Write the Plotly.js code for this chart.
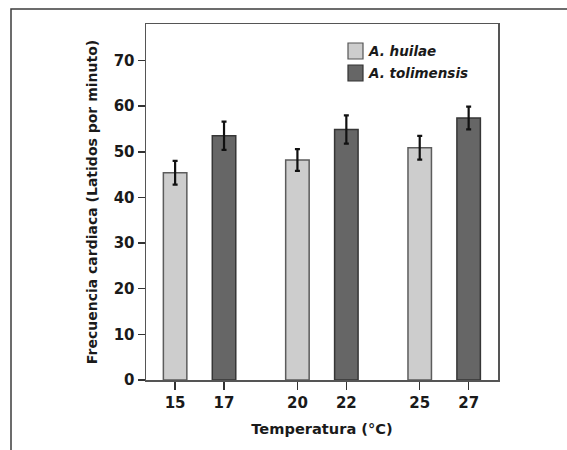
<!DOCTYPE html>
<html>
<head>
<meta charset="utf-8">
<script src="https://cdn.plot.ly/plotly-3.0.1.min.js"></script>
<style>html,body{margin:0;padding:0;background:#fff;}#chart{width:567px;height:450px;}</style>
</head>
<body>
<div id="chart"></div>
<script>
// Data
var tempHuilae = [15, 20, 25];
var valHuilae = [45.4, 48.2, 50.9];
var errHuilae = [2.6, 2.4, 2.6];
var tempTolimensis = [17, 22, 27];
var valTolimensis = [53.5, 54.9, 57.4];
var errTolimensis = [3.1, 3.1, 2.5];
var tickTemps = [15, 17, 20, 22, 25, 27];
var seriesNames = ['A. huilae', 'A. tolimensis'];
var yTicks = [0, 10, 20, 30, 40, 50, 60, 70];

var W = 567, H = 450;
var M = {l: 146, r: 69, t: 24, b: 70};
function px(x) { return (x - M.l) / (W - M.l - M.r); }
function py(y) { return (H - M.b - y) / (H - M.t - M.b); }

var fontFam = 'DejaVu Sans, Liberation Sans, Arial, sans-serif';
var colLight = '#cdcdcd', colDark = '#666666';
function b(s) { return '<b>' + s + '</b>'; }

var traces = [
  {
    type: 'bar', name: seriesNames[0], x: tempHuilae, y: valHuilae, width: 0.96,
    marker: {color: colLight, line: {color: '#5c5c5c', width: 1.5}},
    error_y: {type: 'data', array: errHuilae, visible: true, color: '#111', thickness: 2.2, width: 2.5},
    showlegend: false
  },
  {
    type: 'bar', name: seriesNames[1], x: tempTolimensis, y: valTolimensis, width: 0.96,
    marker: {color: colDark, line: {color: '#363636', width: 1.5}},
    error_y: {type: 'data', array: errTolimensis, visible: true, color: '#111', thickness: 2.2, width: 2.5},
    showlegend: false
  }
];

var axisFont = {family: fontFam, size: 15, color: '#1a1a1a'};

var layout = {
  width: W, height: H,
  margin: M,
  paper_bgcolor: '#fff', plot_bgcolor: '#fff',
  barmode: 'overlay',
  showlegend: false,
  xaxis: {
    range: [13.81, 28.2],
    tickmode: 'array', tickvals: tickTemps, ticktext: tickTemps.map(function (t) { return b(String(t)); }),
    ticks: 'outside', ticklen: 8, tickwidth: 1.5, tickcolor: '#333',
    showline: true, linecolor: '#555', linewidth: 1.5, mirror: true,
    showgrid: false, zeroline: false,
    tickfont: axisFont,
    title: {text: b('Temperatura (°C)'), font: {family: fontFam, size: 14.6, color: '#1a1a1a'}, standoff: 13}
  },
  yaxis: {
    range: [0, 78],
    tickmode: 'array', tickvals: yTicks, ticktext: yTicks.map(function (t) { return b(String(t)); }),
    ticks: 'outside', ticklen: 7, tickwidth: 1.5, tickcolor: '#333',
    showline: true, linecolor: '#555', linewidth: 1.5, mirror: true,
    showgrid: false, zeroline: false,
    tickfont: axisFont,
    title: {text: b('Frecuencia cardiaca (Latidos por minuto)'), font: {family: fontFam, size: 14, color: '#1a1a1a'}, standoff: 12}
  },
  shapes: [
    {type: 'rect', xref: 'paper', yref: 'paper', x0: px(11), x1: px(620), y0: py(9), y1: py(520),
     line: {color: '#3c3c3c', width: 1.5}, fillcolor: 'rgba(0,0,0,0)', layer: 'below'},
    {type: 'rect', xref: 'paper', yref: 'paper', x0: px(348), x1: px(363), y0: py(59), y1: py(43),
     line: {color: '#555', width: 1.2}, fillcolor: colLight},
    {type: 'rect', xref: 'paper', yref: 'paper', x0: px(348), x1: px(363), y0: py(81), y1: py(65),
     line: {color: '#333', width: 1.2}, fillcolor: colDark}
  ],
  annotations: [
    {xref: 'paper', yref: 'paper', x: px(366), y: py(51), xanchor: 'left', yanchor: 'middle', showarrow: false,
     text: b('<i>' + seriesNames[0] + '</i>'), font: {family: fontFam, size: 13.5, color: '#1a1a1a'}},
    {xref: 'paper', yref: 'paper', x: px(366), y: py(73), xanchor: 'left', yanchor: 'middle', showarrow: false,
     text: b('<i>' + seriesNames[1] + '</i>'), font: {family: fontFam, size: 13.5, color: '#1a1a1a'}}
  ]
};

Plotly.newPlot('chart', traces, layout, {staticPlot: true, displayModeBar: false});
</script>
</body>
</html>
